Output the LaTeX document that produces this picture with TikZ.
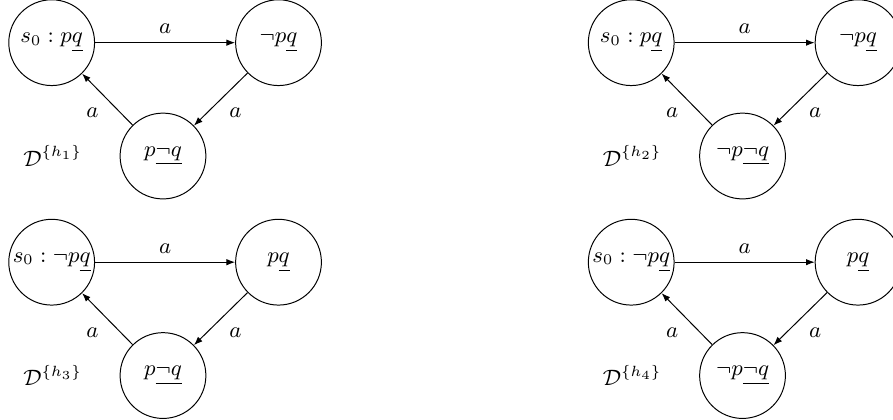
\documentclass[tikz,border=0pt]{standalone}
\usepackage{amsmath,amssymb}
\usepackage{tikz}
\usetikzlibrary{positioning, arrows.meta}

\begin{document}
\begin{tikzpicture}[
  font=\small,
  world/.style={circle, draw, thin, minimum size=1.22cm, inner sep=0pt},
  acc/.style={-{Latex[length=3.5pt, width=2.6pt]}, thin},
  model/.style={inner sep=3pt},
]
  \useasboundingbox (0,0) rectangle (12.7,-5.96);

  % D^{h1}
  \node[world] (s1) at (0.735,-0.607) {$s_0 : p\underline{q}$};
  \node[world] (r1) at (3.961,-0.607) {$\neg p\underline{q}$};
  \node[world] (b1) at (2.318,-2.219) {$p\underline{\neg q}$};
  \node[model, left=0.42cm of b1] (d1) {$\mathcal{D}^{\{h_1\}}$};

  % D^{h2}
  \node[world] (s2) at (8.977,-0.607) {$s_0 : p\underline{q}$};
  \node[world] (r2) at (12.203,-0.607) {$\neg p\underline{q}$};
  \node[world] (b2) at (10.560,-2.219) {$\neg p\underline{\neg q}$};
  \node[model, left=0.42cm of b2] (d2) {$\mathcal{D}^{\{h_2\}}$};

  % D^{h3}
  \node[world] (s3) at (0.735,-3.729) {$s_0 : \neg p\underline{q}$};
  \node[world] (r3) at (3.961,-3.729) {$p\underline{q}$};
  \node[world] (b3) at (2.318,-5.341) {$p\underline{\neg q}$};
  \node[model, left=0.42cm of b3] (d3) {$\mathcal{D}^{\{h_3\}}$};

  % D^{h4}
  \node[world] (s4) at (8.977,-3.729) {$s_0 : \neg p\underline{q}$};
  \node[world] (r4) at (12.203,-3.729) {$p\underline{q}$};
  \node[world] (b4) at (10.560,-5.341) {$\neg p\underline{\neg q}$};
  \node[model, left=0.42cm of b4] (d4) {$\mathcal{D}^{\{h_4\}}$};

  % a-transitions, same cycle in every model
  \foreach \k in {1,...,4} {
    \draw[acc] (s\k) -- node[above] (top\k) {$a$} (r\k);
    \draw[acc] (r\k) -- node[below right] (rgt\k) {$a$} (b\k);
    \draw[acc] (b\k) -- node[below left] (lft\k) {$a$} (s\k);
  }
\end{tikzpicture}
\end{document}
